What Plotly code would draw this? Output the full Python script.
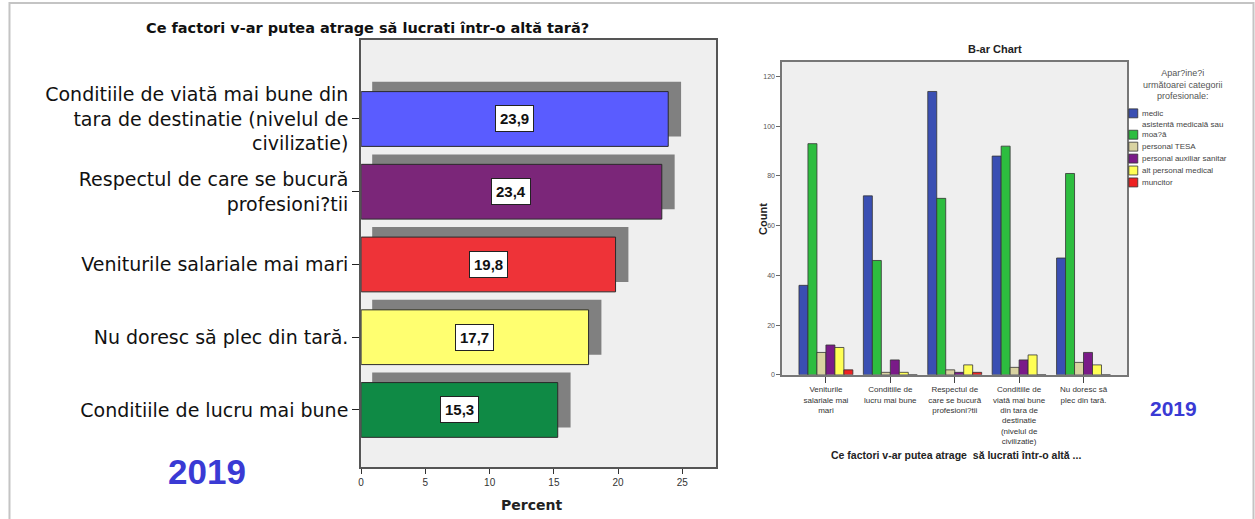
import plotly.graph_objects as go

W, H = 1255, 519
FONT = "Liberation Sans, Arial, sans-serif"
WIDE = "DejaVu Sans, Verdana, sans-serif"

# ---- Left chart: percentage of respondents per factor ----
factors = [
    "Conditiile de viată mai bune din<br>tara de destinatie (nivelul de<br>civilizatie)",
    "Respectul de care se bucură<br>profesioni?tii",
    "Veniturile salariale mai mari",
    "Nu doresc să plec din tară.",
    "Conditiile de lucru mai bune",
]
percent = [23.9, 23.4, 19.8, 17.7, 15.3]
percent_labels = ["23,9", "23,4", "19,8", "17,7", "15,3"]
factor_colors = ["#5a5cff", "#7b2679", "#ee3338", "#ffff70", "#0f8a45"]
percent_ticks = [0, 5, 10, 15, 20, 25]

# ---- Right chart: counts per professional category ----
groups = [
    "Veniturile<br>salariale mai<br>mari",
    "Conditiile de<br>lucru mai bune",
    "Respectul de<br>care se bucură<br>profesioni?tii",
    "Conditiile de<br>viată mai bune<br>din tara de<br>destinatie<br>(nivelul de<br>civilizatie)",
    "Nu doresc să<br>plec din tară.",
]
professions = [
    "medic",
    "asistentă medicală sau<br>moa?ă",
    "personal TESA",
    "personal auxiliar sanitar",
    "alt personal medical",
    "muncitor",
]
count_medic = [36, 72, 114, 88, 47]
count_asistent = [93, 46, 71, 92, 81]
count_tesa = [9, 1, 2, 3, 5]
count_auxiliar = [12, 6, 1, 6, 9]
count_alt = [11, 1, 4, 8, 4]
count_muncitor = [2, 0, 1, 0, 0]
profession_colors = ["#3a4fb3", "#2dbd3f", "#d9d3a1", "#7a1b88", "#ffff55", "#ee2222"]
count_ticks = [0, 20, 40, 60, 80, 100, 120]

fig = go.Figure()


def px_x(x):
    return x / W


def px_y(y):
    return (H - y) / H


# Left chart rows: first factor at the top
n = len(factors)
rows = [n - 1 - i for i in range(n)]
bar_w = 0.753
shadow_dy = 0.137
shadow_start = 0.86
shadow_extra = 1.0

# drop shadows behind the bars
fig.add_trace(go.Bar(
    orientation="h",
    y=[r + shadow_dy for r in rows],
    x=[v + shadow_extra - shadow_start for v in percent],
    base=[shadow_start] * n,
    width=bar_w, offset=-bar_w / 2,
    marker=dict(color="#808080", line=dict(width=0)),
    xaxis="x", yaxis="y", showlegend=False, hoverinfo="skip",
))
fig.add_trace(go.Bar(
    orientation="h",
    y=rows, x=percent,
    width=bar_w, offset=-bar_w / 2,
    marker=dict(color=factor_colors, line=dict(color="#2a2a2a", width=1)),
    xaxis="x", yaxis="y", showlegend=False,
))

for r, v, lab in zip(rows, percent, percent_labels):
    fig.add_annotation(
        x=v / 2, y=r, xref="x", yref="y", text="<b>%s</b>" % lab,
        showarrow=False, bgcolor="white", bordercolor="#222", borderwidth=1,
        borderpad=4, font=dict(family=FONT, size=15, color="#111"),
    )

# Right chart: grouped counts
count_series = [count_medic, count_asistent, count_tesa, count_auxiliar,
                count_alt, count_muncitor]
for name, vals, col in zip(professions, count_series, profession_colors):
    fig.add_trace(go.Bar(
        x=groups, y=vals, name=name,
        marker=dict(color=col, line=dict(color="#333", width=0.8)),
        xaxis="x2", yaxis="y2", showlegend=False,
    ))

fig.update_layout(
    width=W, height=H,
    margin=dict(l=0, r=0, t=0, b=0),
    paper_bgcolor="white",
    plot_bgcolor="#efefef",
    barmode="group", bargap=0.163, bargroupgap=0,
    font=dict(family=FONT, color="#111"),
    showlegend=False,
    xaxis=dict(
        domain=[px_x(359), px_x(715)], range=[0, 27.64], anchor="y",
        tickvals=percent_ticks, ticks="outside", ticklen=5, tickcolor="#333",
        tickfont=dict(family=FONT, size=10, color="#333"),
        showline=True, mirror=True, linecolor="#555", linewidth=2,
        showgrid=False, zeroline=False,
    ),
    yaxis=dict(
        domain=[px_y(470), px_y(40)], range=[-0.788, 5.089], anchor="x",
        tickvals=rows, ticktext=factors, ticks="outside", ticklen=7,
        tickcolor="#222", tickfont=dict(family=WIDE, size=19, color="#111"),
        showline=True, mirror=True, linecolor="#555", linewidth=2,
        showgrid=False, zeroline=False,
    ),
    xaxis2=dict(
        domain=[px_x(781), px_x(1127)], range=[-0.68, 4.68], anchor="y2",
        type="category", ticks="outside", ticklen=6, tickcolor="#444",
        tickfont=dict(family=FONT, size=8, color="#333"),
        showline=True, mirror=True, linecolor="#777", linewidth=1.5,
        showgrid=False, zeroline=False,
    ),
    yaxis2=dict(
        domain=[px_y(377), px_y(62)], range=[0, 126], anchor="x2",
        tickvals=count_ticks, ticks="outside", ticklen=4, tickcolor="#666",
        tickfont=dict(family=FONT, size=7, color="#555"),
        showline=True, mirror=True, linecolor="#777", linewidth=1.5,
        showgrid=False, zeroline=False,
    ),
)

# outer frame
fig.add_shape(type="rect", xref="paper", yref="paper",
              x0=px_x(6.5), x1=px_x(1253.5), y0=-0.05, y1=px_y(3),
              line=dict(color="#c4c4c4", width=2), fillcolor="rgba(0,0,0,0)",
              layer="below")

# legend of the right chart: title, swatches and names
fig.add_annotation(
    x=px_x(1183), y=px_y(85), xref="paper", yref="paper", showarrow=False,
    xanchor="center", yanchor="middle",
    text="Apar?ine?i<br>următoarei categorii<br>profesionale:",
    align="center", font=dict(family=FONT, size=9, color="#555"),
)
line_h = 9.5
cursor = 114
for name, col in zip(professions, profession_colors):
    lines = name.count("<br>") + 1
    last = cursor + (lines - 1) * line_h
    fig.add_shape(type="rect", xref="paper", yref="paper",
                  x0=px_x(1128.5), x1=px_x(1137.5),
                  y0=px_y(last + 4.5), y1=px_y(last - 4.5),
                  fillcolor=col, line=dict(color="#333", width=0.8))
    fig.add_annotation(
        x=px_x(1140), y=px_y((cursor + last) / 2), xref="paper", yref="paper",
        xanchor="left", yanchor="middle", showarrow=False, align="left",
        text=name, font=dict(family=FONT, size=8, color="#444"),
    )
    cursor = last + 12

texts = [
    dict(x=365, y=28, text="<b>Ce factori v-ar putea atrage să lucrati într-o altă tară?</b>",
         size=14.5, family=WIDE, color="#111"),
    dict(x=530, y=508, text="<b>Percent</b>", size=14, family=WIDE, color="#222"),
    dict(x=204, y=474, text="<b>2019</b>", size=35, family=FONT, color="#3a3ad4"),
    dict(x=994, y=49, text="<b>B-ar Chart</b>", size=11, family=FONT, color="#222"),
    dict(x=955, y=458, text="<b>Ce factori v-ar putea atrage  să lucrati într-o altă ...</b>",
         size=10.5, family=FONT, color="#222"),
    dict(x=1173, y=411, text="<b>2019</b>", size=21, family=FONT, color="#3a3ad4"),
]
for t in texts:
    fig.add_annotation(
        x=px_x(t["x"]), y=px_y(t["y"]), xref="paper", yref="paper",
        text=t["text"], showarrow=False, xanchor="center", yanchor="middle",
        font=dict(family=t["family"], size=t["size"], color=t["color"]),
    )
fig.add_annotation(
    x=px_x(762), y=px_y(220), xref="paper", yref="paper",
    text="<b>Count</b>", showarrow=False, textangle=-90,
    xanchor="center", yanchor="middle",
    font=dict(family=FONT, size=11, color="#222"),
)

fig.write_html("out.html")
